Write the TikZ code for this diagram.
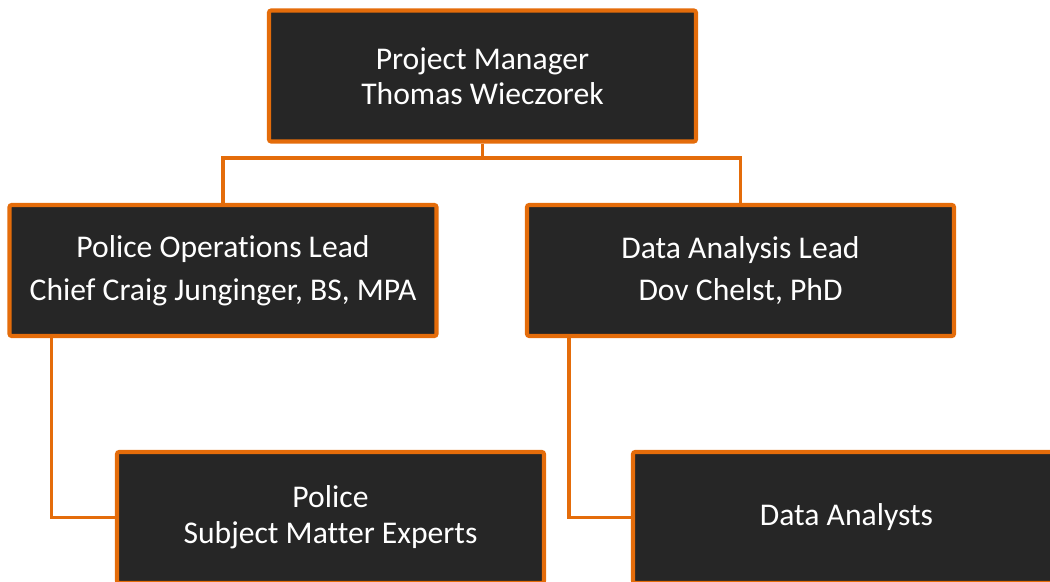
\documentclass[tikz,border=0pt]{standalone}
\usepackage{fontspec}
\setmainfont{Carlito}[Ligatures={NoCommon}]
\usepackage{tikz}
\usetikzlibrary{calc}
\definecolor{boxfill}{RGB}{38, 38, 38}
\definecolor{edge}{RGB}{228, 108, 10}

\begin{document}
\begin{tikzpicture}[
  font=\fontsize{18}{19.8}\selectfont,
  box/.style={rectangle, rounded corners=1.2pt, draw=edge, line width=2.3pt, fill=boxfill, text=white, minimum width=8.54cm, minimum height=2.62cm, align=center, inner sep=0pt},
  link/.style={draw=edge, line width=2.1pt},
]
  \useasboundingbox (0,0) rectangle (21,-11.64);

  % Manager
  \node[box] (pm) at (9.65,-1.52) {Project Manager\\Thomas Wieczorek};

  % Leads
  \node[box, font=\fontsize{18}{24.4}\selectfont] (opslead) at (4.46,-5.41) {Police Operations Lead\\Chief Craig Junginger, BS, MPA};
  \node[box, font=\fontsize{18}{24.4}\selectfont] (datalead) at (14.81,-5.41) {Data Analysis Lead\\Dov Chelst, PhD};

  % Teams
  \node[box, font=\fontsize{18}{20.4}\selectfont] (sme) at (6.61,-10.35) {Police\\Subject Matter Experts};
  \node[box] (analysts) at (16.93,-10.35) {Data Analysts};

  % Manager to leads
  \coordinate (bus) at (9.65,-3.16);
  \draw[link] (pm.south) -- (bus);
  \draw[link] (opslead.north) |- (bus) -| (datalead.north);

  % Leads to teams
  \draw[link] ($(opslead.south west)+(0.88,0)$) |- (sme.west);
  \draw[link] ($(datalead.south west)+(0.88,0)$) |- (analysts.west);

\end{tikzpicture}
\end{document}
